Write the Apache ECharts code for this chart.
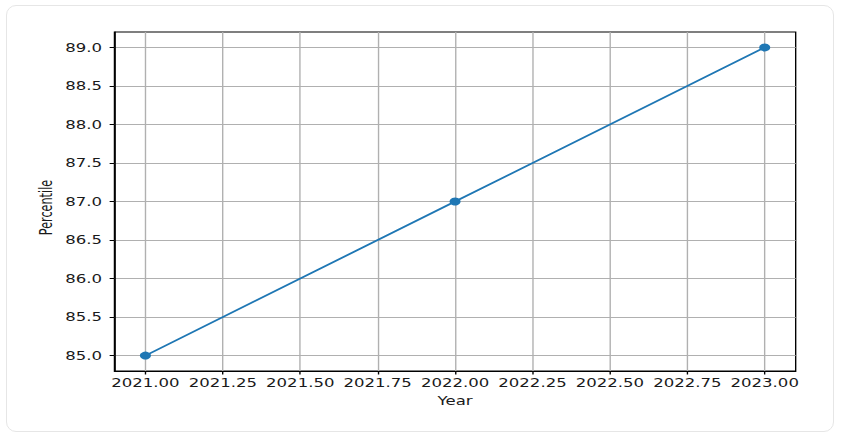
<!DOCTYPE html>
<html>
<head>
<meta charset="utf-8">
<style>
html,body{margin:0;padding:0;background:#fff;}
#card{position:absolute;left:6px;top:5px;width:828px;height:427px;border:1px solid #e6e6e6;border-radius:10px;box-sizing:border-box;}
/* the reference figure is stretched sideways, so draw narrow and widen it */
#main{position:absolute;left:0;top:0;width:612px;height:445px;transform:scaleX(1.379);transform-origin:0 0;}
</style>
<script src="https://cdn.jsdelivr.net/npm/echarts@6/dist/echarts.min.js"></script>
</head>
<body>
<div id="card"></div>
<div id="main"></div>
<script>
var years = [2021, 2022, 2023];
var percentile = [85, 87, 89];
var xTicks = [2021, 2021.25, 2021.5, 2021.75, 2022, 2022.25, 2022.5, 2022.75, 2023];
var yTicks = [85, 85.5, 86, 86.5, 87, 87.5, 88, 88.5, 89];

var chart = echarts.init(document.getElementById('main'), null, {renderer: 'svg'});
var font = 'DejaVu Sans';
var option = {
    animation: false,
    grid: {
        left: 83, right: 35, top: 32, bottom: 74,
        show: true, borderColor: '#000', borderWidth: 1, backgroundColor: 'transparent'
    },
    xAxis: {
        type: 'value',
        min: 2020.9,
        max: 2023.1,
        name: 'Year',
        nameLocation: 'middle',
        nameGap: 24,
        nameMoveOverlap: false,
        nameTextStyle: {fontFamily: font, fontSize: 12, color: '#1a1a1a'},
        axisLine: {show: true, onZero: false, lineStyle: {color: '#000', width: 1}},
        axisTick: {show: true, length: 3.5, customValues: xTicks, lineStyle: {color: '#000'}},
        axisLabel: {
            customValues: xTicks, margin: 6,
            fontFamily: font, fontSize: 12, color: '#1a1a1a',
            formatter: function (v) { return v.toFixed(2); }
        },
        splitLine: {show: true, lineStyle: {color: '#b0b0b0', width: 1}}
    },
    yAxis: {
        type: 'value',
        min: 84.8,
        max: 89.2,
        name: 'Percentile',
        nameLocation: 'middle',
        nameGap: 43,
        nameMoveOverlap: false,
        nameTextStyle: {
            fontFamily: 'Liberation Sans Narrow, DejaVu Sans Condensed, sans-serif',
            fontSize: 12.5, color: '#1a1a1a', padding: [0, 12, 0, 0]
        },
        axisLine: {show: true, lineStyle: {color: '#000', width: 1}},
        axisTick: {show: true, length: 3.5, customValues: yTicks, lineStyle: {color: '#000'}},
        axisLabel: {
            customValues: yTicks, margin: 9,
            fontFamily: font, fontSize: 12, color: '#1a1a1a',
            formatter: function (v) { return v.toFixed(1); }
        },
        splitLine: {show: true, lineStyle: {color: '#b0b0b0', width: 1}}
    },
    series: [{
        type: 'line',
        data: years.map(function (y, i) { return [y, percentile[i]]; }),
        symbol: 'circle',
        symbolSize: 8,
        lineStyle: {color: '#1f77b4', width: 1.7},
        itemStyle: {color: '#1f77b4'}
    }]
};
chart.setOption(option);
</script>
</body>
</html>
